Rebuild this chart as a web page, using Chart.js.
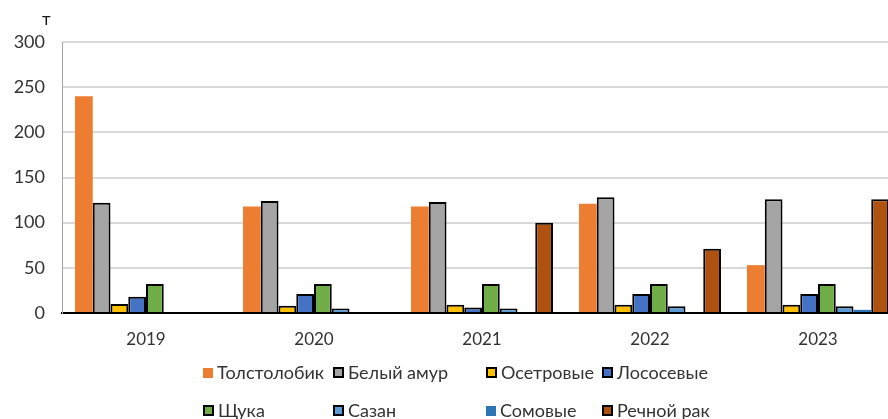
<!DOCTYPE html>
<html>
<head>
<meta charset="utf-8">
<script src="https://cdn.jsdelivr.net/npm/chart.js@4/dist/chart.umd.min.js"></script>
<style>
  html, body { margin: 0; padding: 0; background: #fff; overflow: hidden; }
  #wrap { position: relative; width: 888px; height: 419px; overflow: hidden; font-family: Lato, "Open Sans", sans-serif; }
  #box { position: absolute; left: 0; top: 0; width: 902px; height: 419px; }
  #unit { position: absolute; left: 42px; top: 8px; font-size: 17px; color: #1a1a1a; }
  .lg { position: absolute; font-size: 18px; color: #333; white-space: nowrap; line-height: 20px; }
  .lg i { display: inline-block; width: 9px; height: 9px; margin-right: 4px; vertical-align: 1px; }
</style>
</head>
<body>
<div id="wrap">
  <div id="box"><canvas id="chart"></canvas></div>
  <div id="unit">т</div>
  <div id="legend"></div>
</div>
<script>
// данные
const years = ['2019', '2020', '2021', '2022', '2023'];
const seriesNames = ['Толстолобик', 'Белый амур', 'Осетровые', 'Лососевые', 'Щука', 'Сазан', 'Сомовые', 'Речной рак'];
const tolstolobik = [240, 118, 118, 121, 53];
const belyiAmur = [122, 124, 123, 128, 126];
const osetrovye = [10, 8, 9, 9, 9];
const lososevye = [18, 21, 6, 21, 21];
const shchuka = [32, 32, 32, 32, 32];
const sazan = [0, 5, 5, 7.5, 7.5];
const somovye = [0, 0, 0, 0, 3.5];
const rechnoiRak = [0, 0, 100, 71, 126];
const yTicks = [0, 50, 100, 150, 200, 250, 300];

const colors = ['#ED7D31', '#A5A5A5', '#FFC000', '#4472C4', '#70AD47', '#5B9BD5', '#2E75B6', '#B0520F'];
const bordered = [false, true, true, true, true, true, false, true];
const values = [tolstolobik, belyiAmur, osetrovye, lososevye, shchuka, sazan, somovye, rechnoiRak];

const datasets = seriesNames.map((name, i) => ({
    label: name,
    data: values[i],
    backgroundColor: colors[i],
    borderColor: bordered[i] ? '#000' : colors[i],
    borderWidth: bordered[i] ? 2 : 0,
}));

new Chart(document.getElementById('chart'), {
    type: 'bar',
    data: { labels: years, datasets: datasets },
    options: {
        responsive: true,
        maintainAspectRatio: false,
        animation: false,
        layout: { padding: { top: 42, right: 0, bottom: 70, left: 0 } },
        datasets: { bar: { categoryPercentage: 0.845, barPercentage: 1.0 } },
        plugins: { legend: { display: false }, tooltip: { enabled: false } },
        scales: {
            x: {
                grid: { display: false, drawTicks: false },
                border: { color: '#000', width: 2 },
                ticks: { color: '#333', font: { family: 'Lato', size: 17 }, padding: 16 },
                afterFit: (s) => { s.height = 36; }
            },
            y: {
                min: 0, max: 300,
                afterBuildTicks: (s) => { s.ticks = yTicks.map(v => ({ value: v })); },
                grid: { color: '#d9d9d9', lineWidth: 2, drawTicks: false },
                border: { color: '#a6a6a6', width: 1 },
                ticks: { color: '#333', font: { family: 'Lato', size: 18 }, padding: 17 },
                afterFit: (s) => { s.width = 62; }
            }
        }
    }
});

// легенда в две строки
const legendCols = [203, 333, 486, 602];
const legendRows = [362, 400];
let html = '';
seriesNames.forEach((name, i) => {
    const col = legendCols[i % 4], row = legendRows[Math.floor(i / 4)];
    const b = bordered[i] ? 'border:2px solid #000;width:7px;height:7px;' : 'width:10px;height:10px;';
    html += `<div class="lg" style="left:${col}px;top:${row}px"><i style="background:${colors[i]};${b}"></i>${name}</div>`;
});
document.getElementById('legend').innerHTML = html;
</script>
</body>
</html>
